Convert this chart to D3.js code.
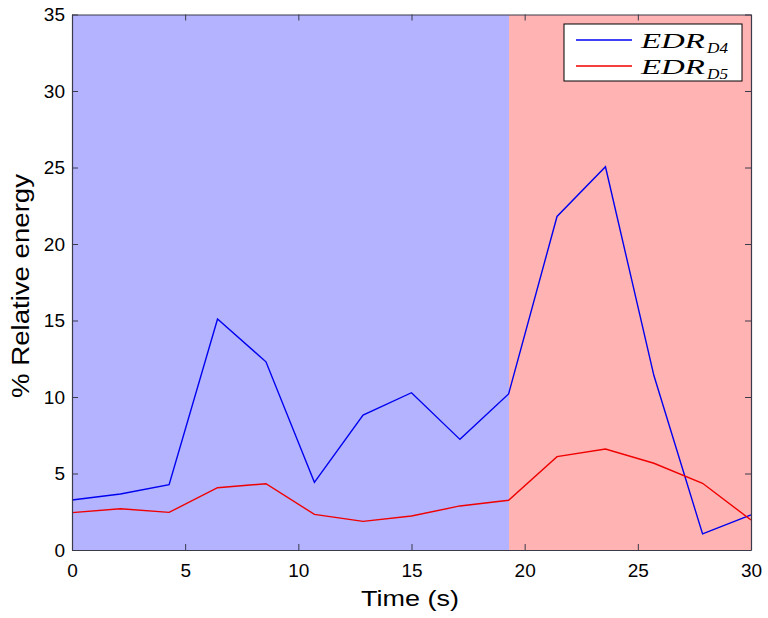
<!DOCTYPE html>
<html lang="en">
<head>
<meta charset="UTF-8">
<title>Relative energy</title>
<style>
  body { margin: 0; padding: 0; background: #fff; }
  svg { display: block; font-family: "Liberation Sans", Arial, sans-serif; }
</style>
</head>
<body>
<script src="https://d3js.org/d3.v7.min.js"></script>
<script>
const width = 768
const height = 618

// data
const times = [0, 2.14, 4.29, 6.43, 8.57, 10.71, 12.86, 15, 17.14, 19.29, 21.43, 23.57, 25.71, 27.86, 30]
const edrD4 = [3.27, 3.66, 4.27, 15.1, 12.3, 4.42, 8.82, 10.28, 7.23, 10.2, 21.8, 25.05, 11.4, 1.05, 2.29]
const edrD5 = [2.44, 2.7, 2.46, 4.07, 4.33, 2.33, 1.87, 2.22, 2.88, 3.25, 6.1, 6.6, 5.67, 4.36, 1.96]
const regions = [
  { from: 0, to: 19.29, color: 'rgb(179,179,255)' },
  { from: 19.29, to: 30, color: 'rgb(255,179,179)' }
]
const xTicks = [0, 5, 10, 15, 20, 25, 30]
const yTicks = [0, 5, 10, 15, 20, 25, 30, 35]

const margin = { top: 14.5, right: 17, bottom: 68, left: 72 }
const innerW = width - margin.left - margin.right
const innerH = height - margin.top - margin.bottom

const x = d3.scaleLinear().domain([0, 30]).range([0, innerW])
const y = d3.scaleLinear().domain([0, 35]).range([innerH, 0])

const svg = d3.select('body').append('svg')
  .attr('width', width)
  .attr('height', height)

const g = svg.append('g')
  .attr('transform', `translate(${margin.left},${margin.top})`)

g.selectAll('rect.region')
  .data(regions)
  .join('rect')
  .attr('class', 'region')
  .attr('x', d => x(d.from))
  .attr('y', 0)
  .attr('width', d => x(d.to) - x(d.from))
  .attr('height', innerH)
  .attr('fill', d => d.color)
  .attr('shape-rendering', 'crispEdges')

const line = d3.line()
  .x((d, i) => x(times[i]))
  .y(d => y(d))

g.append('path').datum(edrD4)
  .attr('d', line).attr('fill', 'none')
  .attr('stroke', '#0000f0').attr('stroke-width', 1.4)

g.append('path').datum(edrD5)
  .attr('d', line).attr('fill', 'none')
  .attr('stroke', '#f00000').attr('stroke-width', 1.4)

// axes, MATLAB style: ticks inward on all four sides
const tickLen = 6
const axisColor = '#3a3a4a'

const axBottom = g.append('g').attr('transform', `translate(0,${innerH})`)
  .call(d3.axisBottom(x).tickValues(xTicks).tickSizeInner(-tickLen).tickSizeOuter(0).tickPadding(14))
const axTop = g.append('g')
  .call(d3.axisTop(x).tickValues(xTicks).tickSizeInner(-tickLen).tickSizeOuter(0).tickFormat(''))
const axLeft = g.append('g')
  .call(d3.axisLeft(y).tickValues(yTicks).tickSizeInner(-tickLen).tickSizeOuter(0).tickPadding(7))
const axRight = g.append('g').attr('transform', `translate(${innerW},0)`)
  .call(d3.axisRight(y).tickValues(yTicks).tickSizeInner(-tickLen).tickSizeOuter(0).tickFormat(''))

;[axBottom, axTop, axLeft, axRight].forEach(a => {
  a.selectAll('path.domain').attr('stroke', axisColor).attr('stroke-width', 1.2)
  a.selectAll('.tick line').attr('stroke', axisColor).attr('stroke-width', 1)
  a.selectAll('.tick text')
    .attr('fill', '#000')
    .style('font-size', '19px')
    .style('font-family', '"Liberation Sans", Arial, sans-serif')
})

// axis labels (the original is rendered a little wide, so stretch to its length)
svg.append('text')
  .attr('x', 361)
  .attr('y', 606)
  .attr('textLength', 98)
  .attr('lengthAdjust', 'spacingAndGlyphs')
  .style('font-size', '22px')
  .text('Time (s)')

svg.append('text')
  .attr('transform', 'translate(29,398) rotate(-90)')
  .attr('textLength', 224)
  .attr('lengthAdjust', 'spacingAndGlyphs')
  .style('font-size', '23px')
  .text('% Relative energy')

// legend
const legend = svg.append('g').attr('transform', 'translate(564,24)')
legend.append('rect')
  .attr('width', 178).attr('height', 57)
  .attr('fill', '#fff').attr('stroke', '#000').attr('stroke-width', 1)

const legendItems = [
  { sub: 'D4', color: '#0000f0' },
  { sub: 'D5', color: '#f00000' }
]
legendItems.forEach((d, i) => {
  const cy = 16 + i * 26
  legend.append('line')
    .attr('x1', 12).attr('x2', 68).attr('y1', cy).attr('y2', cy)
    .attr('stroke', d.color).attr('stroke-width', 1.4)
  legend.append('text')
    .attr('x', 77).attr('y', cy + 8)
    .attr('textLength', 64)
    .attr('lengthAdjust', 'spacingAndGlyphs')
    .style('font-family', '"Liberation Serif", "DejaVu Serif", serif')
    .style('font-style', 'italic')
    .style('font-size', '20px')
    .text('EDR')
  legend.append('text')
    .attr('x', 143).attr('y', cy + 12.5)
    .attr('textLength', 21)
    .attr('lengthAdjust', 'spacingAndGlyphs')
    .style('font-family', '"Liberation Serif", "DejaVu Serif", serif')
    .style('font-style', 'italic')
    .style('font-size', '14px')
    .text(d.sub)
})
</script>
</body>
</html>
